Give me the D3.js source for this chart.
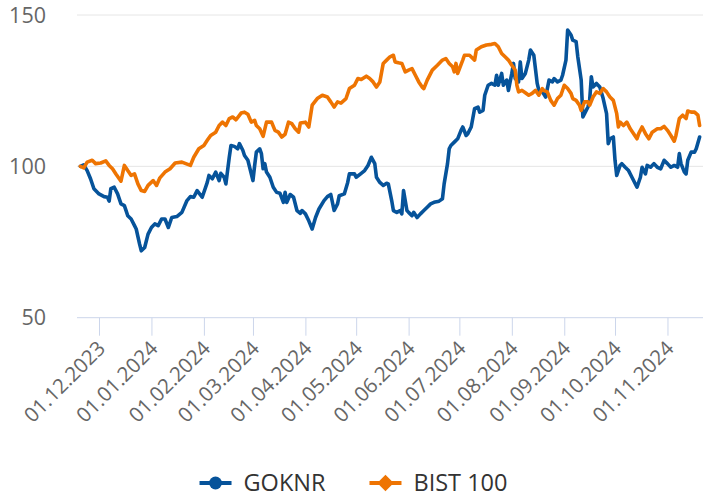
<!DOCTYPE html>
<html>
<head>
<meta charset="utf-8">
<script src="https://cdn.jsdelivr.net/npm/d3@7"></script>
<style>
  html, body { margin: 0; padding: 0; background: #fff; }
  svg { display: block; font-family: "Open Sans", sans-serif; }
</style>
</head>
<body>
<div id="chart"></div>
<script>
// GOKNR vs BIST 100, normalised to 100 at start
const goknrDates = [
  '2023-11-20','2023-11-22','2023-11-24','2023-11-26','2023-11-28','2023-12-01','2023-12-04','2023-12-06','2023-12-07','2023-12-08',
  '2023-12-10','2023-12-12','2023-12-14','2023-12-16','2023-12-17','2023-12-18','2023-12-20','2023-12-22','2023-12-23','2023-12-25',
  '2023-12-26','2023-12-28','2023-12-30','2024-01-01','2024-01-03','2024-01-05','2024-01-07','2024-01-09','2024-01-11','2024-01-13',
  '2024-01-16','2024-01-19','2024-01-22','2024-01-24','2024-01-26','2024-01-28','2024-01-31','2024-02-03','2024-02-04','2024-02-06',
  '2024-02-08','2024-02-10','2024-02-11','2024-02-13','2024-02-14','2024-02-16','2024-02-17','2024-02-19','2024-02-21','2024-02-22',
  '2024-02-24','2024-02-25','2024-02-27','2024-02-29','2024-03-01','2024-03-02','2024-03-03','2024-03-05','2024-03-06','2024-03-07',
  '2024-03-08','2024-03-09','2024-03-11','2024-03-13','2024-03-15','2024-03-17','2024-03-19','2024-03-20','2024-03-21','2024-03-23',
  '2024-03-25','2024-03-27','2024-03-29','2024-03-30','2024-04-01','2024-04-03','2024-04-05','2024-04-07','2024-04-09','2024-04-12',
  '2024-04-14','2024-04-16','2024-04-18','2024-04-20','2024-04-21','2024-04-24','2024-04-26','2024-04-27','2024-04-30','2024-05-01',
  '2024-05-04','2024-05-06','2024-05-08','2024-05-10','2024-05-12','2024-05-13','2024-05-15','2024-05-17','2024-05-19','2024-05-20',
  '2024-05-22','2024-05-23','2024-05-25','2024-05-27','2024-05-28','2024-05-29','2024-05-31','2024-06-01','2024-06-03','2024-06-04',
  '2024-06-06','2024-06-08','2024-06-10','2024-06-12','2024-06-14','2024-06-16','2024-06-19','2024-06-21','2024-06-22','2024-06-24',
  '2024-06-25','2024-06-26','2024-06-28','2024-06-30','2024-07-02','2024-07-03','2024-07-05','2024-07-06','2024-07-08','2024-07-10',
  '2024-07-12','2024-07-13','2024-07-15','2024-07-16','2024-07-18','2024-07-20','2024-07-22','2024-07-23','2024-07-24','2024-07-26',
  '2024-07-27','2024-07-29','2024-07-30','2024-08-01','2024-08-02','2024-08-03','2024-08-05','2024-08-06','2024-08-07','2024-08-09',
  '2024-08-11','2024-08-12','2024-08-14','2024-08-16','2024-08-17','2024-08-19','2024-08-20','2024-08-21','2024-08-23','2024-08-25',
  '2024-08-26','2024-08-28','2024-08-30','2024-08-31','2024-09-02','2024-09-03','2024-09-05','2024-09-06','2024-09-08','2024-09-09',
  '2024-09-11','2024-09-12','2024-09-13','2024-09-15','2024-09-16','2024-09-17','2024-09-18','2024-09-20','2024-09-22','2024-09-24',
  '2024-09-26','2024-09-27','2024-09-28','2024-09-30','2024-10-01','2024-10-02','2024-10-04','2024-10-05','2024-10-07','2024-10-09',
  '2024-10-11','2024-10-14','2024-10-16','2024-10-17','2024-10-19','2024-10-20','2024-10-22','2024-10-24','2024-10-26','2024-10-28',
  '2024-10-30','2024-11-01','2024-11-03','2024-11-05','2024-11-07','2024-11-08','2024-11-09','2024-11-11','2024-11-12','2024-11-13',
  '2024-11-15','2024-11-17','2024-11-18','2024-11-20'
];
const goknrValues = [
  100, 100.5, 98.6, 95.9, 92.6, 90.9, 90, 89.8, 88.5, 92.6,
  93.1, 90.9, 87.6, 87, 85.4, 83.7, 82.6, 80.4, 79.3, 74.3,
  72.1, 73.2, 77.6, 79.8, 81, 80.4, 82.6, 82.6, 79.8, 83.1,
  83.4, 84.8, 88.7, 90, 89.8, 92, 89.8, 94.7, 97, 95.9,
  98.1, 95.3, 97.7, 96.4, 94.2, 103, 106.9, 106.6, 105.8, 107.5,
  105.3, 103.6, 102, 97.5, 95.3, 100.3, 104.7, 105.8, 104.2, 99.2,
  100.9, 98.1, 96.4, 93.1, 91.4, 91.1, 88.1, 91.4, 88.1, 90.7,
  89.8, 85.4, 84.5, 85.4, 84.3, 82, 79.3, 83.1, 85.9, 88.7,
  90, 90.7, 85.4, 87.6, 90.3, 90.9, 94.7, 97.5, 97.5, 96.4,
  97.7, 98.6, 100.3, 103, 100.9, 96.4, 94.7, 93.7, 94.4, 94.2,
  88.7, 85.4, 84.8, 85.4, 84.3, 92, 85.4, 84.8, 83.7, 84.8,
  83.1, 84.3, 85.4, 86.5, 87.6, 88.1, 88.5, 89.3, 94.2, 100.9,
  105.8, 106.9, 108, 109.1, 111.9, 113, 110.2, 110.8, 113, 119.1,
  119.6, 117.9, 118.5, 123.5, 126.8, 127.4, 126.8, 130.1, 126.8, 130.7,
  126.8, 128.5, 125.1, 130.7, 134, 129, 127.9, 134.5, 129, 130.7,
  135.1, 138.4, 136.7, 127.4, 125.1, 124.6, 123.8, 122.9, 128.5, 127.9,
  129, 127.9, 128.5, 130.1, 135.1, 145, 143.4, 141.7, 141.2, 136.2,
  128.5, 116.3, 117.4, 119.6, 121.8, 129.6, 126.2, 127.4, 126.2, 122.4,
  117.4, 107.5, 109.1, 109.7, 102, 97, 100.3, 100.9, 99.7, 98.6,
  96.4, 93.1, 96.4, 99.7, 97.5, 100.3, 99.7, 100.9, 99.7, 99.2,
  102, 100.9, 99.7, 100.3, 99.7, 104.2, 100.9, 98.1, 97.5, 102,
  104.7, 104.7, 105.8, 109.7
];

const bistDates = [
  '2023-11-20','2023-11-22','2023-11-24','2023-11-27','2023-11-29','2023-12-02','2023-12-05','2023-12-07','2023-12-09','2023-12-11',
  '2023-12-14','2023-12-16','2023-12-18','2023-12-20','2023-12-22','2023-12-24','2023-12-26','2023-12-28','2023-12-30','2024-01-02',
  '2024-01-04','2024-01-06','2024-01-09','2024-01-12','2024-01-15','2024-01-19','2024-01-24','2024-01-26','2024-01-29','2024-02-01',
  '2024-02-03','2024-02-05','2024-02-08','2024-02-10','2024-02-12','2024-02-14','2024-02-16','2024-02-18','2024-02-20','2024-02-23',
  '2024-02-25','2024-02-27','2024-02-29','2024-03-02','2024-03-03','2024-03-05','2024-03-07','2024-03-09','2024-03-12','2024-03-14',
  '2024-03-16','2024-03-18','2024-03-20','2024-03-22','2024-03-24','2024-03-26','2024-03-28','2024-03-29','2024-04-01','2024-04-03',
  '2024-04-05','2024-04-08','2024-04-11','2024-04-14','2024-04-16','2024-04-18','2024-04-20','2024-04-22','2024-04-25','2024-04-27',
  '2024-04-30','2024-05-02','2024-05-04','2024-05-07','2024-05-09','2024-05-11','2024-05-13','2024-05-15','2024-05-17','2024-05-19',
  '2024-05-21','2024-05-23','2024-05-24','2024-05-26','2024-05-28','2024-05-30','2024-06-01','2024-06-03','2024-06-05','2024-06-07',
  '2024-06-09','2024-06-10','2024-06-12','2024-06-15','2024-06-18','2024-06-21','2024-06-23','2024-06-25','2024-06-27','2024-06-28',
  '2024-06-29','2024-06-30','2024-07-03','2024-07-04','2024-07-07','2024-07-10','2024-07-11','2024-07-14','2024-07-17','2024-07-20',
  '2024-07-22','2024-07-24','2024-07-26','2024-07-28','2024-07-30','2024-08-01','2024-08-03','2024-08-04','2024-08-05','2024-08-07',
  '2024-08-09','2024-08-11','2024-08-13','2024-08-15','2024-08-17','2024-08-19','2024-08-20','2024-08-22','2024-08-24','2024-08-26',
  '2024-08-28','2024-08-30','2024-09-01','2024-09-03','2024-09-05','2024-09-06','2024-09-08','2024-09-10','2024-09-11','2024-09-13',
  '2024-09-15','2024-09-16','2024-09-18','2024-09-20','2024-09-22','2024-09-24','2024-09-26','2024-09-28','2024-09-30','2024-10-02',
  '2024-10-03','2024-10-04','2024-10-06','2024-10-08','2024-10-10','2024-10-12','2024-10-14','2024-10-15','2024-10-17','2024-10-19',
  '2024-10-21','2024-10-23','2024-10-26','2024-10-28','2024-10-30','2024-11-01','2024-11-03','2024-11-05','2024-11-06','2024-11-08',
  '2024-11-10','2024-11-12','2024-11-13','2024-11-15','2024-11-17','2024-11-19','2024-11-20'
];
const bistValues = [
  100, 99.5, 101.4, 102, 100.9, 101.1, 101.8, 100.3, 99.2, 97.5,
  95.1, 100.3, 98.6, 97, 97.5, 94.2, 92, 91.7, 93.7, 95.3,
  93.7, 96.2, 98.1, 99.2, 101.1, 101.4, 100.3, 103, 105.8, 106.9,
  108.6, 110.2, 111.3, 113.5, 114.6, 113.5, 115.8, 116.3, 115.4, 117.6,
  117.9, 117.2, 114.6, 115.2, 113.5, 112.4, 109.9, 114.6, 114.6, 111.9,
  111.3, 109.7, 110.6, 114.6, 114.1, 112.4, 111.3, 114.3, 114.6, 113,
  120.2, 122.4, 123.5, 122.9, 121.3, 119.6, 121.3, 120.9, 122.4, 125.7,
  126.8, 129, 128.7, 129.8, 129, 127.9, 126.2, 127.9, 134, 135.1,
  136.2, 136.7, 134.5, 134.2, 134, 131.2, 131.8, 132.3, 130.1, 127.9,
  126.2, 125.7, 128.5, 131.8, 133.4, 135.1, 135.6, 134, 132.9, 131.2,
  134, 130.7, 135.1, 136.7, 136.7, 135.1, 138.4, 139.5, 140.1, 140.3,
  140.6, 139.5, 137.3, 136.2, 135.1, 133.4, 131.8, 126.8, 124.6, 125.1,
  124.3, 123.5, 124.1, 125.1, 123.5, 125.7, 125, 124.6, 121.8, 120.2,
  122.4, 123.5, 126.8, 125.7, 124.1, 122.4, 121.8, 120.2, 118.5, 121.3,
  121.3, 120.2, 122.9, 124.6, 124.1, 125.7, 124.6, 122.9, 121.8, 117.4,
  113, 114.6, 113.5, 114.6, 112.4, 110.8, 109.1, 110.8, 113, 110.8,
  109.1, 111.3, 112.4, 112.4, 113.2, 111.9, 110.2, 108.3, 110.2, 115.8,
  116.9, 115.8, 118.3, 117.9, 117.9, 116.9, 113.5
];

const yTicks = [50, 100, 150];
const seriesNames = ['GOKNR', 'BIST 100'];
const seriesColors = ['#06539a', '#ee7402'];

const width = 703;
const height = 499;
const margin = { top: 15, right: 0, bottom: 182, left: 77 };

const parse = d3.timeParse('%Y-%m-%d');
const series = [
  { name: seriesNames[0], color: seriesColors[0], marker: 'circle',
    points: goknrDates.map((d, i) => ({ date: parse(d), value: goknrValues[i] })) },
  { name: seriesNames[1], color: seriesColors[1], marker: 'diamond',
    points: bistDates.map((d, i) => ({ date: parse(d), value: bistValues[i] })) }
];

const svg = d3.select('#chart')
  .append('svg')
  .attr('width', width)
  .attr('height', height);

const x = d3.scaleTime()
  .domain([parse('2023-11-18'), parse('2024-11-22')])
  .range([margin.left, width - margin.right]);

const y = d3.scaleLinear()
  .domain([50, 150])
  .range([height - margin.bottom + 0.7, margin.top]);

// grid lines
svg.append('g')
  .selectAll('line')
  .data(yTicks.filter(t => t !== 50))
  .enter()
  .append('line')
  .attr('x1', margin.left)
  .attr('x2', width)
  .attr('y1', d => y(d))
  .attr('y2', d => y(d))
  .attr('stroke', '#e6e6e6')
  .attr('stroke-width', 1);

// y labels
svg.append('g')
  .selectAll('text')
  .data(yTicks)
  .enter()
  .append('text')
  .attr('x', 46)
  .attr('y', d => y(d))
  .attr('dy', '0.36em')
  .attr('text-anchor', 'end')
  .attr('fill', '#666')
  .style('font-size', '21.5px')
  .text(d => d);

// x axis
const xAxis = d3.axisBottom(x)
  .ticks(d3.timeMonth.every(1))
  .tickFormat(d3.timeFormat('%d.%m.%Y'))
  .tickSize(18)
  .tickSizeOuter(0);

const gx = svg.append('g')
  .attr('transform', `translate(0,${y(50)})`)
  .call(xAxis);

gx.select('.domain')
  .attr('stroke', '#ccd6eb')
  .attr('d', `M${margin.left},0H${width}`);
gx.selectAll('.tick line').attr('stroke', '#ccd6eb');
gx.selectAll('.tick text')
  .attr('fill', '#666')
  .style('font-size', '20.5px')
  .style('font-family', '"Open Sans", sans-serif')
  .attr('text-anchor', 'end')
  .attr('x', 0)
  .attr('y', 0)
  .attr('dy', '0.35em')
  .attr('transform', 'translate(2,27) rotate(-45)');

// lines
const line = d3.line()
  .x(d => x(d.date))
  .y(d => y(d.value));

svg.append('g')
  .selectAll('path')
  .data(series)
  .enter()
  .append('path')
  .attr('fill', 'none')
  .attr('stroke', d => d.color)
  .attr('stroke-width', 3.6)
  .attr('stroke-linejoin', 'round')
  .attr('stroke-linecap', 'round')
  .attr('d', d => line(d.points));

// legend
const legend = svg.append('g');
let lx = 0;
series.forEach((s, i) => {
  const item = legend.append('g').attr('transform', `translate(${lx},0)`);
  item.append('line')
    .attr('x1', 0).attr('x2', 32)
    .attr('y1', 0).attr('y2', 0)
    .attr('stroke', s.color)
    .attr('stroke-width', 4);
  item.append('path')
    .attr('transform', 'translate(16,0)')
    .attr('d', d3.symbol().type(s.marker === 'circle' ? d3.symbolCircle : d3.symbolDiamond2).size(s.marker === 'circle' ? 130 : 170)())
    .attr('fill', s.color);
  const t = item.append('text')
    .attr('x', 44)
    .attr('dy', '0.36em')
    .attr('fill', '#333')
    .style('font-size', '23.5px')
    .text(s.name);
  lx += 44 + t.node().getComputedTextLength() + 44;
});
const legendWidth = lx - 44;
legend.attr('transform', `translate(${(width - legendWidth) / 2 + 2},483)`);
</script>
</body>
</html>
